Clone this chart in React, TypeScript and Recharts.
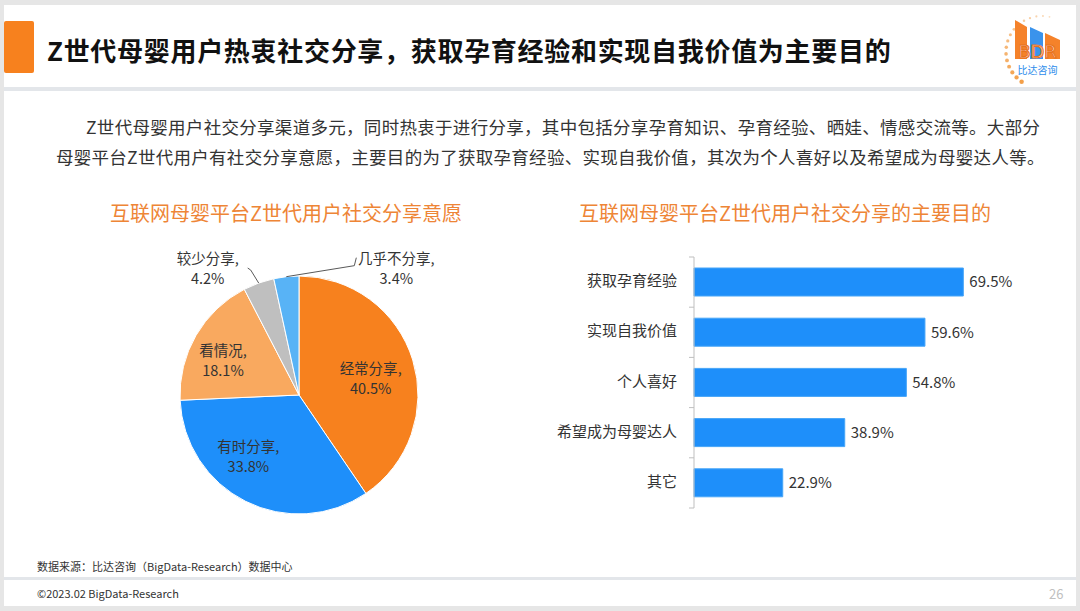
import React from 'react';
import { PieChart, Pie, Cell, BarChart, Bar, XAxis, YAxis, LabelList } from 'recharts';

const shareLabels = ['经常分享', '有时分享', '看情况', '较少分享', '几乎不分享'];
const shareValues = [40.5, 33.8, 18.1, 4.2, 3.4];
const shareColors = ['#F7811E', '#1E8FFA', '#F9A95F', '#BFBFBF', '#58B3F6'];

const purposeLabels = ['获取孕育经验', '实现自我价值', '个人喜好', '希望成为母婴达人', '其它'];
const purposeValues = [69.5, 59.6, 54.8, 38.9, 22.9];

const pieData = shareLabels.map((name, i) => ({ name, value: shareValues[i] }));
const barData = purposeLabels.map((name, i) => ({ name, value: purposeValues[i] }));

const FONT = "'Noto Sans CJK SC', 'Noto Sans', sans-serif";
const RAD = Math.PI / 180;
const TEXT = '#333333';

type LabelCfg = { r?: number; dx: number; dy: number; outside?: boolean; line?: [number, number][] };
const labelCfg: LabelCfg[] = [
  { r: 0.63, dx: 0, dy: 5 },
  { r: 0.63, dx: -17, dy: -6 },
  { r: 0.67, dx: -7, dy: 5 },
  { outside: true, dx: -51, dy: -15, line: [[-8, -13], [-11, -15]] },
  { outside: true, dx: 110, dy: -9, line: [[68, -11], [70, -19]] },
];

const renderPieLabel = (props: any) => {
  const { cx, cy, midAngle, outerRadius, index, value, name } = props;
  const cfg = labelCfg[index];
  const cos = Math.cos(-midAngle * RAD);
  const sin = Math.sin(-midAngle * RAD);
  let bx: number, by: number;
  let lineEl = null;
  if (cfg.outside) {
    const ex = cx + outerRadius * cos;
    const ey = cy + outerRadius * sin;
    bx = ex + cfg.dx;
    by = ey + cfg.dy;
    const pts = [[ex, ey], ...(cfg.line || []).map(([a, b]) => [ex + a, ey + b])]
      .map((p) => p.join(','))
      .join(' ');
    lineEl = <polyline points={pts} fill="none" stroke="#595959" strokeWidth={1} />;
  } else {
    const r = outerRadius * (cfg.r || 0.6);
    bx = cx + r * cos + cfg.dx;
    by = cy + r * sin + cfg.dy;
  }
  return (
    <g key={`lbl-${index}`}>
      {lineEl}
      <text textAnchor="middle" fill={TEXT} fontSize={14.5} fontFamily={FONT}>
        <tspan x={bx} y={by - 4}>{name},</tspan>
        <tspan x={bx} y={by + 16}>{value.toFixed(1)}%</tspan>
      </text>
    </g>
  );
};

const BAND = 251 / 5;

const CategoryTick = (props: any) => {
  const { x, y, payload, index } = props;
  return (
    <g>
      <line x1={x - 5} x2={x} y1={y - BAND / 2} y2={y - BAND / 2} stroke="#BFBFBF" strokeWidth={1} />
      {index === purposeLabels.length - 1 && (
        <line x1={x - 5} x2={x} y1={y + BAND / 2} y2={y + BAND / 2} stroke="#BFBFBF" strokeWidth={1} />
      )}
      <text x={x - 17} y={y} textAnchor="end" dominantBaseline="middle" fill={TEXT} fontSize={15} fontFamily={FONT}>
        {payload.value}
      </text>
    </g>
  );
};

const Logo = () => (
  <svg width={80} height={80} style={{ position: 'absolute', left: 990, top: 5 }}>
    {Array.from({ length: 16 }).map((_, i) => {
      const a = (78 + i * 10.5) * RAD;
      const r = 36;
      const x = 52 + r * Math.cos(a);
      const y = 47 - r * Math.sin(a);
      return <circle key={i} cx={x} cy={y} r={0.9 + i * 0.09} fill="#F29A3F" opacity={0.35 + i * 0.04} />;
    })}
    <polygon points="25,15 37,22 37,54 25,54" fill="#F5822A" />
    <polygon points="40,22 53,28 53,54 40,54" fill="#3A93EC" />
    <polygon points="55,28 70,35 70,54 55,54" fill="#F5822A" />
    <text x={47.5} y={53} textAnchor="middle" fontSize={18} fontFamily="'DejaVu Sans', sans-serif" fill="#ffffff" stroke="#E8731E" strokeWidth={1.2}>
      BDR
    </text>
    <text x={47.5} y={69} textAnchor="middle" fontSize={10} fontFamily={FONT} fill="#2D8CEB">
      比达咨询
    </text>
  </svg>
);

export default function App() {
  return (
    <div
      style={{
        position: 'absolute',
        left: 0,
        top: 0,
        width: 1080,
        height: 611,
        background: '#E6E6E6',
        fontFamily: FONT,
        overflow: 'hidden',
      }}
    >
      <div style={{ position: 'absolute', left: 4, top: 5, width: 1072, height: 601, background: '#ffffff' }} />
      {/* header */}
      <div style={{ position: 'absolute', left: 4, top: 21, width: 30, height: 52, background: '#F7811E', borderRadius: 2 }} />
      <div
        style={{
          position: 'absolute',
          left: 47,
          top: 32,
          height: 36,
          lineHeight: '36px',
          fontSize: 26,
          fontWeight: 700,
          color: '#111111',
          whiteSpace: 'nowrap',
          letterSpacing: 0.7,
        }}
      >
        Z世代母婴用户热衷社交分享，获取孕育经验和实现自我价值为主要目的
      </div>
      <Logo />
      <div style={{ position: 'absolute', left: 4, top: 87, width: 1072, height: 4, background: '#E3E6EA' }} />

      {/* paragraph */}
      <div
        style={{
          position: 'absolute',
          left: 86,
          top: 114,
          lineHeight: '26px',
          fontSize: 17.5,
          color: '#333333',
          whiteSpace: 'nowrap',
          letterSpacing: 0.3,
        }}
      >
        Z世代母婴用户社交分享渠道多元，同时热衷于进行分享，其中包括分享孕育知识、孕育经验、晒娃、情感交流等。大部分
      </div>
      <div
        style={{
          position: 'absolute',
          left: 56,
          top: 144,
          lineHeight: '26px',
          fontSize: 17.5,
          color: '#333333',
          whiteSpace: 'nowrap',
          letterSpacing: 0.28,
        }}
      >
        母婴平台Z世代用户有社交分享意愿，主要目的为了获取孕育经验、实现自我价值，其次为个人喜好以及希望成为母婴达人等。
      </div>

      {/* chart titles */}
      <div
        style={{
          position: 'absolute',
          left: 86,
          width: 400,
          top: 200,
          textAlign: 'center',
          fontSize: 20,
          lineHeight: '26px',
          color: '#EE8536',
          whiteSpace: 'nowrap',
        }}
      >
        互联网母婴平台Z世代用户社交分享意愿
      </div>
      <div
        style={{
          position: 'absolute',
          left: 579,
          width: 400,
          top: 200,
          textAlign: 'center',
          fontSize: 20,
          lineHeight: '26px',
          color: '#EE8536',
          whiteSpace: 'nowrap',
        }}
      >
        互联网母婴平台Z世代用户社交分享的主要目的
      </div>

      {/* pie chart */}
      <div style={{ position: 'absolute', left: 0, top: 230 }}>
        <PieChart width={540} height={320}>
          <Pie
            data={pieData}
            dataKey="value"
            nameKey="name"
            cx={294}
            cy={160}
            outerRadius={119}
            startAngle={90}
            endAngle={-270}
            stroke="#ffffff"
            strokeWidth={1}
            label={renderPieLabel}
            labelLine={false}
            isAnimationActive={false}
          >
            {pieData.map((d, i) => (
              <Cell key={d.name} fill={shareColors[i]} />
            ))}
          </Pie>
        </PieChart>
      </div>

      {/* bar chart */}
      <div style={{ position: 'absolute', left: 540, top: 240 }}>
        <BarChart width={500} height={290} data={barData} layout="vertical" margin={{ top: 17, right: 36, bottom: 22, left: 0 }}>
          <XAxis type="number" domain={[0, 80]} hide />
          <YAxis
            type="category"
            dataKey="name"
            width={154}
            axisLine={{ stroke: '#BFBFBF' }}
            tickLine={false}
            tickSize={0}
            tickMargin={0}
            tick={<CategoryTick />}
            interval={0}
          />
          <Bar dataKey="value" fill="#1E8FFA" stroke="#46A5F8" strokeWidth={1} barSize={28} isAnimationActive={false}>
            <LabelList
              dataKey="value"
              position="right"
              offset={6}
              formatter={(v: any) => `${Number(v).toFixed(1)}%`}
              style={{ fill: TEXT, fontSize: 15, fontFamily: FONT }}
            />
          </Bar>
        </BarChart>
      </div>

      {/* footer */}
      <div style={{ position: 'absolute', left: 37, top: 558, fontSize: 11, lineHeight: '16px', color: '#333333', whiteSpace: 'nowrap' }}>
        数据来源：比达咨询（BigData-Research）数据中心
      </div>
      <div style={{ position: 'absolute', left: 4, top: 577, width: 1072, height: 3, background: '#E3E6EA' }} />
      <div style={{ position: 'absolute', left: 37, top: 585, fontSize: 11, lineHeight: '16px', color: '#333333', whiteSpace: 'nowrap' }}>
        ©2023.02 BigData-Research
      </div>
      <div style={{ position: 'absolute', left: 1049, top: 585, fontSize: 13, lineHeight: '18px', color: '#C0C0C0' }}>26</div>
    </div>
  );
}
